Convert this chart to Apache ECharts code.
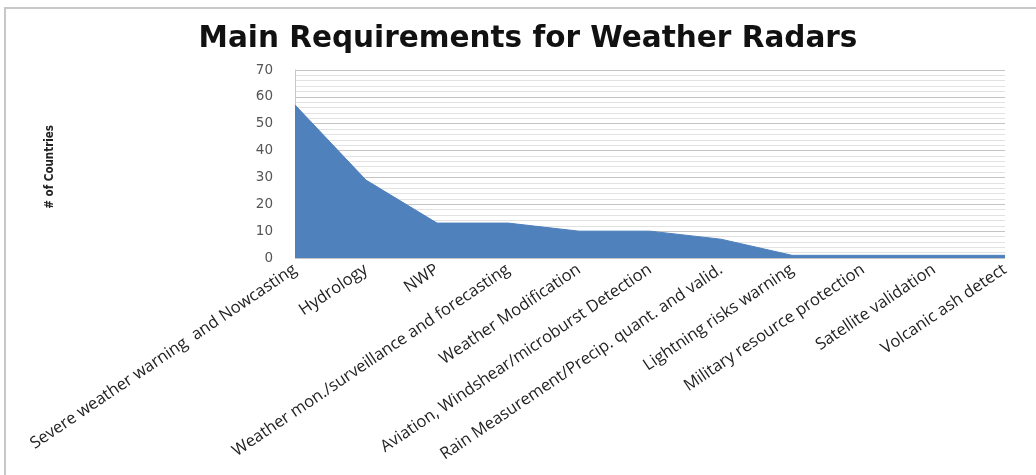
<!DOCTYPE html>
<html>
<head>
<meta charset="utf-8">
<script src="https://cdn.jsdelivr.net/npm/echarts@6/dist/echarts.min.js"></script>
<style>
  html, body { margin: 0; padding: 0; background: #ffffff; }
  #chart { width: 1036px; height: 475px; }
</style>
</head>
<body>
<div id="chart"></div>
<script>
// Requirement categories (x axis)
const categories = [
  'Severe weather warning  and Nowcasting',
  'Hydrology',
  'NWP',
  'Weather mon./surveillance and forecasting',
  'Weather Modification',
  'Aviation, Windshear/microburst Detection',
  'Rain Measurement/Precip. quant. and valid.',
  'Lightning risks warning',
  'Military resource protection',
  'Satellite validation',
  'Volcanic ash detect'
];

// Number of countries citing each requirement
const countries = [57, 29, 13, 13, 10, 10, 7, 1, 1, 1, 1];

// Value axis range
const yMin = 0;
const yMax = 70;
const yStep = 10;

const chart = echarts.init(document.getElementById('chart'), null, { renderer: 'canvas' });

chart.setOption({
  animation: false,
  backgroundColor: '#ffffff',
  title: {
    text: 'Main Requirements for Weather Radars',
    top: 19,
    left: 523,
    textAlign: 'center',
    textStyle: {
      fontFamily: 'DejaVu Sans',
      fontWeight: 'bold',
      fontSize: 29.5,
      color: '#111111'
    }
  },
  graphic: [
    {
      type: 'rect',
      shape: { x: 5, y: 8, width: 1100, height: 520 },
      style: { fill: 'none', stroke: '#c8c8c8', lineWidth: 2 },
      z: -1
    },
    {
      type: 'text',
      left: 44,
      top: 125,
      rotation: Math.PI / 2,
      style: {
        text: '# of Countries',
        font: 'bold 11.5px "Liberation Sans Narrow", "DejaVu Sans Condensed", sans-serif',
        fill: '#222222'
      }
    }
  ],
  grid: {
    left: 295,
    right: 31,
    top: 70,
    bottom: 217,
    containLabel: false
  },
  xAxis: {
    type: 'category',
    data: categories,
    boundaryGap: false,
    axisLine: { show: false },
    axisTick: { show: false },
    splitLine: { show: false },
    axisLabel: {
      interval: 0,
      rotate: 34,
      margin: 10,
      fontFamily: 'Open Sans',
      fontSize: 16.5,
      color: '#222222'
    }
  },
  yAxis: {
    type: 'value',
    min: yMin,
    max: yMax,
    interval: yStep,
    axisLine: { show: true, lineStyle: { color: '#c8c8c8', width: 1 } },
    axisTick: { show: false },
    axisLabel: {
      margin: 22,
      fontFamily: 'DejaVu Sans',
      fontSize: 13.5,
      color: '#555555'
    },
    splitLine: { show: true, lineStyle: { color: '#c4c4c4', width: 1 } },
    minorTick: { show: false, splitNumber: 5 },
    minorSplitLine: { show: true, lineStyle: { color: '#e2e2e2', width: 1 } }
  },
  series: [
    {
      type: 'line',
      data: countries,
      symbol: 'none',
      lineStyle: { color: '#4f81bd', width: 1 },
      areaStyle: { color: '#4f81bd', opacity: 1 },
      z: 3
    }
  ]
});
</script>
</body>
</html>
